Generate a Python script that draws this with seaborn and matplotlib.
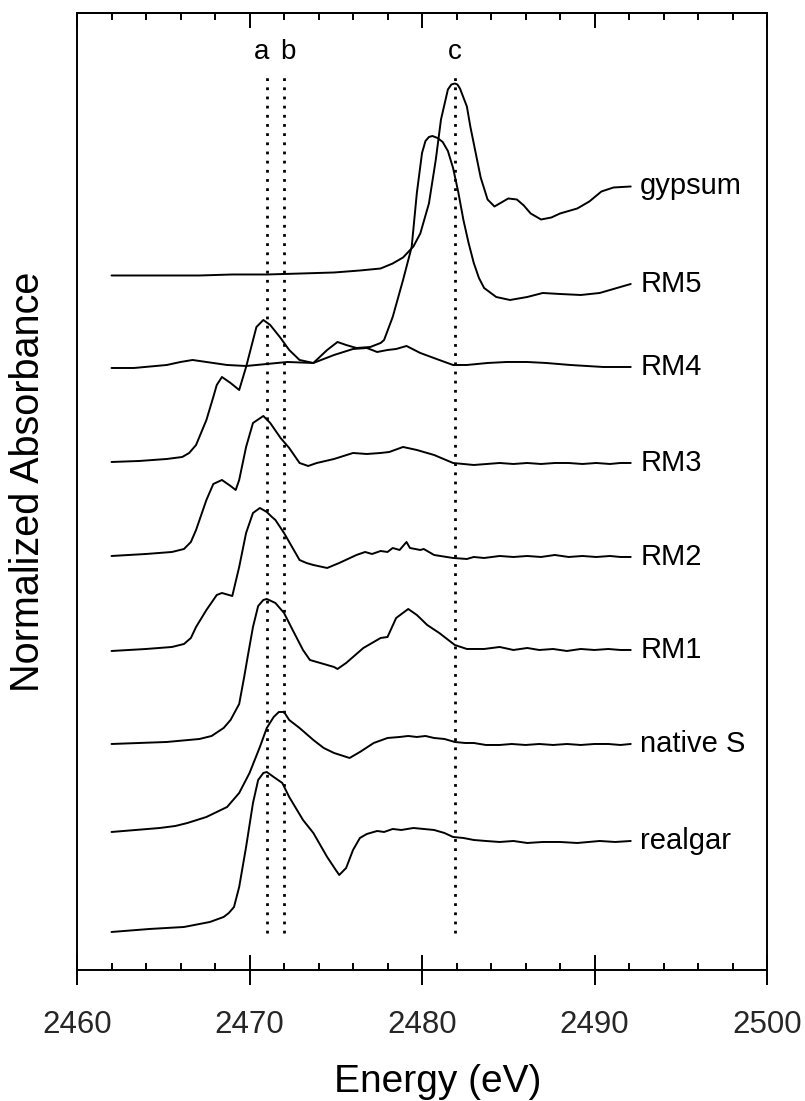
import matplotlib
matplotlib.use("Agg")
import matplotlib.pyplot as plt
import numpy as np
import pandas as pd
import seaborn as sns
from matplotlib.ticker import MultipleLocator

# S K-edge XANES: energies (eV) and normalized absorbance for each spectrum
realgar_e = [2462.0, 2464.2, 2466.2, 2467.7, 2468.5, 2468.8, 2469.1, 2469.4, 2469.8, 2470.2,
             2470.5, 2470.8, 2471.0, 2471.4, 2471.9, 2472.3, 2473.1, 2473.7, 2474.5, 2475.0,
             2475.2, 2475.6, 2476.0, 2476.4, 2476.8, 2477.4, 2477.8, 2478.3, 2478.8, 2479.5,
             2480.1, 2480.7, 2481.3, 2481.8, 2482.4, 2483.0, 2483.7, 2484.5, 2485.3, 2486.1,
             2487.0, 2488.0, 2489.0, 2490.3, 2491.2, 2492.1]
realgar_mu = [-0.02, 0.01, 0.03, 0.08, 0.13, 0.17, 0.23, 0.43, 0.83, 1.27,
              1.50, 1.57, 1.58, 1.53, 1.47, 1.33, 1.10, 0.97, 0.73, 0.60,
              0.55, 0.62, 0.80, 0.92, 0.96, 0.99, 0.98, 1.01, 1.00, 1.02,
              1.01, 1.00, 0.97, 0.93, 0.92, 0.90, 0.89, 0.88, 0.89, 0.87,
              0.88, 0.88, 0.87, 0.89, 0.88, 0.89]

natives_e = [2462.0, 2463.4, 2464.8, 2465.7, 2466.4, 2467.5, 2468.7, 2469.4, 2470.0, 2470.6,
             2471.0, 2471.4, 2471.7, 2472.0, 2472.3, 2472.9, 2473.7, 2474.3, 2474.9, 2475.8,
             2476.4, 2477.2, 2478.0, 2478.7, 2479.2, 2479.7, 2480.2, 2480.7, 2481.3, 2481.9,
             2482.5, 2483.0, 2483.7, 2484.5, 2485.2, 2486.0, 2486.8, 2487.6, 2488.4, 2489.2,
             2490.0, 2490.8, 2491.5, 2492.1]
natives_mu = [0.00, 0.02, 0.04, 0.06, 0.09, 0.15, 0.25, 0.39, 0.59, 0.85,
              1.04, 1.15, 1.20, 1.20, 1.12, 1.04, 0.92, 0.84, 0.79, 0.74,
              0.80, 0.89, 0.94, 0.95, 0.96, 0.95, 0.96, 0.94, 0.93, 0.90,
              0.89, 0.89, 0.87, 0.87, 0.88, 0.87, 0.88, 0.87, 0.88, 0.87,
              0.88, 0.88, 0.87, 0.88]

rm1_e = [2462.0, 2463.6, 2465.2, 2467.1, 2467.8, 2468.5, 2468.9, 2469.4, 2469.7, 2469.9,
         2470.2, 2470.5, 2470.8, 2471.0, 2471.5, 2472.0, 2472.5, 2473.1, 2473.5, 2474.3,
         2474.9, 2475.1, 2475.6, 2476.6, 2477.6, 2478.0, 2478.5, 2479.2, 2479.7, 2480.3,
         2481.0, 2481.9, 2482.6, 2483.6, 2484.5, 2485.3, 2486.1, 2486.8, 2487.6, 2488.4,
         2489.2, 2490.0, 2490.8, 2491.5, 2492.1]
rm1_mu = [0.00, 0.01, 0.02, 0.05, 0.08, 0.16, 0.24, 0.40, 0.68, 0.88,
          1.17, 1.38, 1.44, 1.45, 1.41, 1.31, 1.14, 0.94, 0.84, 0.80,
          0.77, 0.75, 0.81, 0.96, 1.06, 1.07, 1.26, 1.35, 1.29, 1.19,
          1.11, 0.99, 0.95, 0.95, 0.97, 0.94, 0.96, 0.94, 0.95, 0.93,
          0.95, 0.94, 0.95, 0.94, 0.94]

rm2_e = [2462.0, 2464.0, 2465.5, 2466.2, 2466.6, 2466.9, 2467.5, 2468.1, 2468.4, 2469.0,
         2469.4, 2469.8, 2470.2, 2470.6, 2471.0, 2471.3, 2471.5, 2472.0, 2472.9, 2473.3,
         2473.7, 2474.5, 2475.2, 2476.2, 2476.7, 2477.1, 2477.6, 2478.0, 2478.3, 2478.7,
         2479.1, 2479.3, 2479.9, 2480.1, 2480.7, 2481.8, 2482.6, 2483.0, 2483.6, 2484.5,
         2485.3, 2486.1, 2486.9, 2487.7, 2488.5, 2489.3, 2490.1, 2490.9, 2491.5, 2492.1]
rm2_mu = [0.00, 0.02, 0.04, 0.07, 0.13, 0.24, 0.41, 0.56, 0.58, 0.55,
          0.84, 1.18, 1.38, 1.43, 1.39, 1.34, 1.31, 1.18, 0.91, 0.88,
          0.86, 0.83, 0.88, 0.96, 0.99, 0.97, 1.00, 0.99, 1.03, 1.01,
          1.09, 1.03, 1.01, 1.02, 0.96, 0.93, 0.92, 0.94, 0.93, 0.95,
          0.94, 0.95, 0.94, 0.96, 0.94, 0.95, 0.94, 0.95, 0.94, 0.94]

rm3_e = [2462.0, 2464.0, 2465.5, 2466.2, 2466.6, 2466.9, 2467.5, 2467.9, 2468.4, 2468.9,
         2469.2, 2469.4, 2469.8, 2470.2, 2470.8, 2471.2, 2471.8, 2472.3, 2472.9, 2473.4,
         2473.9, 2474.9, 2476.0, 2476.8, 2477.6, 2478.1, 2478.9, 2479.7, 2480.7, 2481.8,
         2483.0, 2484.5, 2485.3, 2486.1, 2486.9, 2487.7, 2488.5, 2489.3, 2490.1, 2490.9,
         2491.5, 2492.1]
rm3_mu = [0.00, 0.02, 0.04, 0.07, 0.14, 0.26, 0.56, 0.72, 0.76, 0.70,
          0.66, 0.76, 1.09, 1.33, 1.40, 1.33, 1.18, 1.08, 0.93, 0.90,
          0.93, 0.97, 1.03, 1.02, 1.03, 1.04, 1.09, 1.06, 1.01, 0.93,
          0.91, 0.93, 0.92, 0.93, 0.92, 0.93, 0.93, 0.92, 0.93, 0.92,
          0.93, 0.93]

rm4_e = [2462.0, 2463.6, 2465.2, 2466.1, 2466.5, 2466.9, 2467.5, 2467.9, 2468.1, 2468.4,
         2468.9, 2469.4, 2469.8, 2470.4, 2470.8, 2471.2, 2471.8, 2472.3, 2472.9, 2473.7,
         2474.9, 2476.0, 2476.8, 2477.4, 2478.0, 2478.5, 2479.1, 2479.9, 2481.0, 2481.8,
         2482.6, 2483.8, 2484.9, 2486.1, 2487.2, 2488.6, 2490.5, 2492.1]
rm4_mu = [0.00, 0.01, 0.03, 0.05, 0.09, 0.17, 0.42, 0.65, 0.77, 0.85,
          0.79, 0.72, 0.95, 1.35, 1.42, 1.37, 1.24, 1.12, 1.02, 0.99,
          1.07, 1.13, 1.14, 1.10, 1.12, 1.13, 1.16, 1.09, 1.02, 0.97,
          0.97, 0.99, 1.00, 1.00, 0.99, 0.97, 0.95, 0.95]

rm5_e = [2462.0, 2463.3, 2465.2, 2466.0, 2466.7, 2467.5, 2468.7, 2469.8, 2471.0, 2472.2,
         2473.7, 2474.5, 2475.1, 2475.6, 2476.2, 2477.0, 2477.6, 2477.8, 2478.3, 2478.9,
         2479.4, 2479.7, 2480.0, 2480.2, 2480.4, 2480.6, 2480.9, 2481.2, 2481.5, 2481.8,
         2482.1, 2482.4, 2482.7, 2483.0, 2483.3, 2483.6, 2484.3, 2485.1, 2486.1, 2487.0,
         2488.0, 2489.2, 2490.3, 2491.3, 2492.1]
rm5_mu = [0.00, 0.00, 0.03, 0.06, 0.08, 0.06, 0.03, 0.02, 0.04, 0.06,
          0.05, 0.18, 0.26, 0.23, 0.20, 0.21, 0.25, 0.28, 0.51, 0.88,
          1.21, 1.75, 2.15, 2.27, 2.31, 2.32, 2.30, 2.26, 2.17, 2.00,
          1.76, 1.48, 1.25, 1.05, 0.90, 0.80, 0.71, 0.68, 0.71, 0.75,
          0.74, 0.73, 0.75, 0.80, 0.84]

gypsum_e = [2462.0, 2465.0, 2467.1, 2469.0, 2471.0, 2473.0, 2474.9, 2476.4, 2477.6, 2478.3,
            2478.9, 2479.5, 2479.9, 2480.4, 2480.8, 2481.1, 2481.5, 2481.7, 2481.9, 2482.05,
            2482.2, 2482.6, 2482.8, 2483.0, 2483.4, 2483.8, 2484.2, 2484.5, 2485.0, 2485.5,
            2485.9, 2486.3, 2486.9, 2487.5, 2488.0, 2489.0, 2489.7, 2490.4, 2491.1, 2492.1]
gypsum_mu = [0.00, 0.00, 0.00, 0.01, 0.01, 0.02, 0.03, 0.05, 0.07, 0.12,
             0.18, 0.29, 0.42, 0.72, 1.16, 1.56, 1.86, 1.91, 1.92, 1.91,
             1.87, 1.69, 1.49, 1.32, 0.98, 0.76, 0.69, 0.72, 0.77, 0.76,
             0.70, 0.62, 0.56, 0.58, 0.62, 0.67, 0.74, 0.84, 0.88, 0.89]

samples = ["realgar", "native S", "RM1", "RM2", "RM3", "RM4", "RM5", "gypsum"]
energies = [realgar_e, natives_e, rm1_e, rm2_e, rm3_e, rm4_e, rm5_e, gypsum_e]
absorbances = [realgar_mu, natives_mu, rm1_mu, rm2_mu, rm3_mu, rm4_mu, rm5_mu, gypsum_mu]
# vertical stacking offsets of the spectra
offsets = [0.40, 1.38, 2.26, 3.19, 4.14, 5.08, 6.02, 6.945]

# reference features marked with dotted lines
feature_energies = [2471.0, 2472.0, 2481.9]
feature_labels = ["a", "b", "c"]
feature_label_x = [2470.7, 2472.25, 2481.9]

frames = []
for name, e, mu, off in zip(samples, energies, absorbances, offsets):
    frames.append(pd.DataFrame({"energy": e, "stacked": np.asarray(mu) + off, "sample": name}))
df = pd.concat(frames, ignore_index=True)

sns.set_theme(style="white")
plt.rcParams["font.family"] = ["Liberation Sans", "DejaVu Sans"]

fig = plt.figure(figsize=(8.05, 11.01), dpi=100)
ax = fig.add_axes([0.0957, 0.1190, 0.8571, 0.8692])

sns.lineplot(data=df, x="energy", y="stacked", hue="sample",
             palette={s: "black" for s in samples}, estimator=None, sort=False,
             legend=False, linewidth=1.4, ax=ax)

ax.vlines(feature_energies, 0.37, 8.97, colors="black", linewidth=2.0,
          linestyles=[(0, (1, 2.3))])
for lx, lab in zip(feature_label_x, feature_labels):
    ax.text(lx, 9.11, lab, fontsize=20, ha="center", va="baseline", color="black")

for name, mu, off in zip(samples, absorbances, offsets):
    ax.text(2492.65, mu[-1] + off, name, fontsize=21, ha="left", va="center", color="black")

ax.set_xlim(2460, 2500)
ax.set_ylim(0, 9.57)
ax.set_yticks([])
ax.xaxis.set_major_locator(MultipleLocator(10))
ax.xaxis.set_minor_locator(MultipleLocator(2))
ax.tick_params(axis="x", which="major", direction="inout", length=21.6, width=1.4,
               labelsize=22.5, pad=18, color="black", bottom=True)
ax.tick_params(axis="x", which="minor", direction="in", length=5, width=1.4,
               color="black", bottom=True)

top = ax.secondary_xaxis("top")
top.xaxis.set_major_locator(MultipleLocator(10))
top.xaxis.set_minor_locator(MultipleLocator(2))
top.tick_params(which="major", direction="in", length=10.5, width=1.4, labeltop=False, color="black")
top.tick_params(which="minor", direction="in", length=5, width=1.4, color="black")
top.spines["top"].set_linewidth(1.4)
top.spines["top"].set_color("black")

for sp in ax.spines.values():
    sp.set_color("black")
    sp.set_linewidth(1.4)
    sp.set_visible(True)

ax.set_xlabel("Energy (eV)", fontsize=28, color="black")
ax.xaxis.set_label_coords(0.522, -0.098)
ax.set_ylabel("Normalized Absorbance", fontsize=28.5, color="black")
ax.yaxis.set_label_coords(-0.043, 0.51)

fig.savefig("out.png", dpi=100)
